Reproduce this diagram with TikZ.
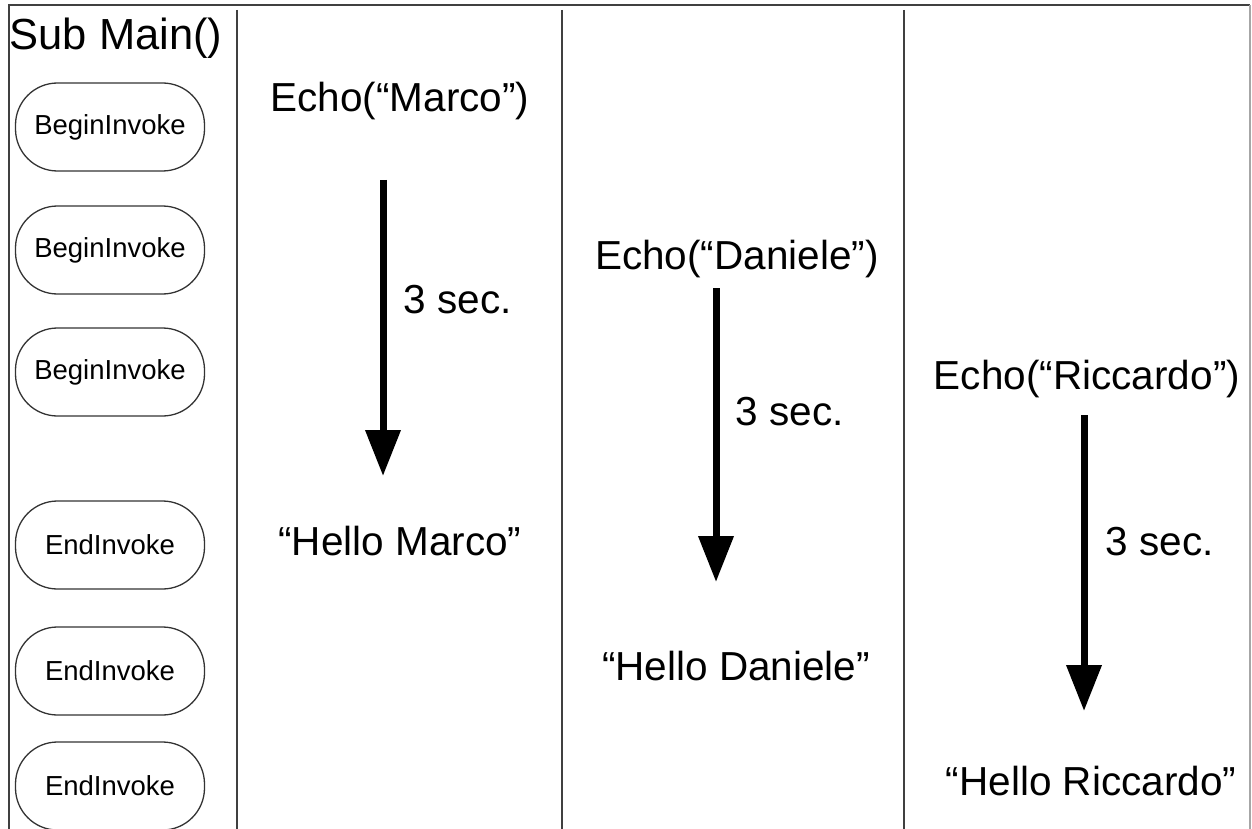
\documentclass[tikz,border=0pt]{standalone}
\usepackage{fontspec}
\setmainfont{Liberation Sans}
\usetikzlibrary{arrows.meta}

\begin{document}
\begin{tikzpicture}%
[x=1pt, y=-1pt,%
call/.style={draw=black!80, line width=1.3pt, rounded corners=42pt, minimum width=189pt, minimum height=88pt, inner sep=0pt, font=\fontsize{27.5}{32}\selectfont},%
txt/.style={inner sep=0pt, font=\fontsize{40.5}{48}\selectfont},%
wait/.style={line width=7pt, -{Triangle[width=34pt,length=46pt]}},%
frame/.style={draw=black!75, line width=2.5pt}]
\useasboundingbox (0,0) rectangle (1252,829);
% frame and columns
\draw[frame] (9,829) -- (9,5) -- (1250,5);
\draw[draw=black!35, line width=2pt] (1250,5) -- (1250,829);
\foreach \x in {237,562,904}
  \draw[frame] (\x,10) -- (\x,829);
% Sub Main column
\node[txt, font=\fontsize{43.5}{50}\selectfont] (sub) at (116,38) {Sub Main()};
\node[call] (bi1) at (110,127) {BeginInvoke};
\node[call] (bi2) at (110,250) {BeginInvoke};
\node[call] (bi3) at (110,372) {BeginInvoke};
\node[call] (ei1) at (110,545) {EndInvoke};
\node[call] (ei2) at (110,671) {EndInvoke};
\node[call] (ei3) at (110,786) {EndInvoke};
% Marco
\node[txt] (echoM) at (400,101) {Echo(“Marco”)};
\coordinate (startM) at (383,180);
\coordinate (endM) at (383,476);
\draw[wait] (startM) -- (endM);
\node[txt] (secM) at (458,300) {3 sec.};
\node[txt] (helloM) at (400,541) {“Hello Marco”};
% Daniele
\node[txt] (echoD) at (737,259) {Echo(“Daniele”)};
\coordinate (startD) at (716,288);
\coordinate (endD) at (716,582);
\draw[wait] (startD) -- (endD);
\node[txt] (secD) at (790,412) {3 sec.};
\node[txt] (helloD) at (736,666) {“Hello Daniele”};
% Riccardo
\node[txt] (echoR) at (1087,379) {Echo(“Riccardo”)};
\coordinate (startR) at (1084,415);
\coordinate (endR) at (1084,711);
\draw[wait] (startR) -- (endR);
\node[txt] (secR) at (1160,542) {3 sec.};
\node[txt] (helloR) at (1091,781) {“Hello Riccardo”};
\end{tikzpicture}
\end{document}
